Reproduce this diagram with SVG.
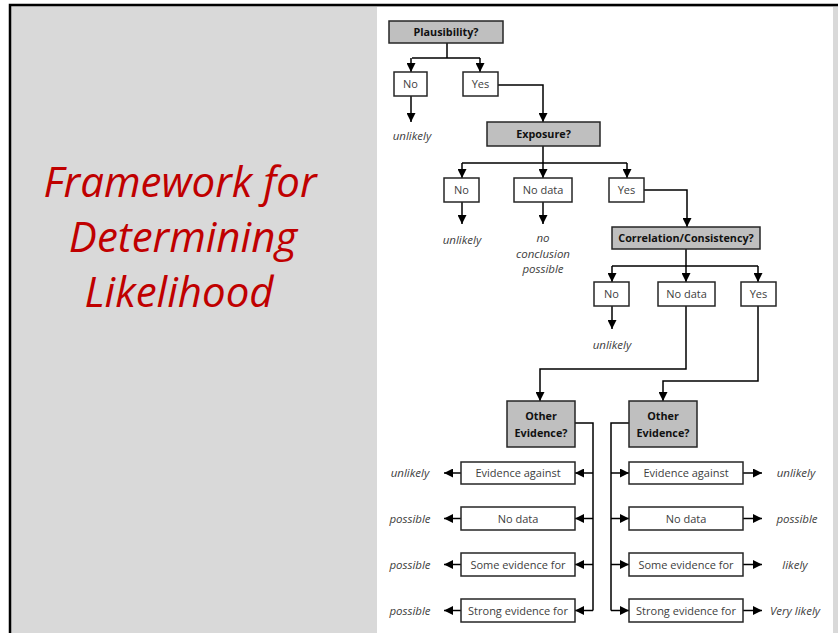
<svg xmlns="http://www.w3.org/2000/svg" width="838" height="633" viewBox="0 0 838 633">
<defs>
<marker id="ah" markerUnits="userSpaceOnUse" markerWidth="9" markerHeight="9" viewBox="0 0 10 10" refX="10" refY="5" orient="auto">
<path d="M0,0 L10,5 L0,10 z" fill="#000"/>
</marker>
<style>
.q rect{fill:#bfbfbf;stroke:#262626;stroke-width:1.5}
.b rect{fill:#fff;stroke:#262626;stroke-width:1.5}
.q text{font-family:"Open Sans","Liberation Sans",sans-serif;font-weight:bold;font-size:10.8px;fill:#111;text-anchor:middle}
.b text{font-family:"Open Sans","Liberation Sans",sans-serif;font-size:11px;fill:#404040;text-anchor:middle}
.o{font-family:"Open Sans","Liberation Sans",sans-serif;font-style:italic;font-size:11.5px;fill:#404040;text-anchor:middle}
#connectors path{fill:none;stroke:#000;stroke-width:1.5}
.t{font-family:"Open Sans","Liberation Sans",sans-serif;font-style:italic;font-size:42px;fill:#c00000;text-anchor:middle}
</style>
</defs>
<rect x="10" y="5" width="840" height="640" fill="#d9d9d9" stroke="#000" stroke-width="2.5"/>
<rect x="377" y="7" width="456" height="626" fill="#fff"/>
<g id="title">
<text class="t" x="180" y="197">Framework for</text>
<text class="t" x="183" y="252">Determining</text>
<text class="t" x="179" y="307">Likelihood</text>
</g>
<g id="connectors">
<path d="M447,43 V58 M412,58 H480"/>
<path d="M411,58 V72" marker-end="url(#ah)"/>
<path d="M480,58 V72" marker-end="url(#ah)"/>
<path d="M411,96 V122" marker-end="url(#ah)"/>
<path d="M498,85 H543 V122" marker-end="url(#ah)"/>
<path d="M543,146 V163 M462,163 H627"/>
<path d="M462,163 V178" marker-end="url(#ah)"/>
<path d="M543,163 V178" marker-end="url(#ah)"/>
<path d="M627,163 V178" marker-end="url(#ah)"/>
<path d="M462,202 V224" marker-end="url(#ah)"/>
<path d="M543,202 V224" marker-end="url(#ah)"/>
<path d="M644,190 H687 V227" marker-end="url(#ah)"/>
<path d="M686,249 V266 M612,266 H758"/>
<path d="M612,266 V282" marker-end="url(#ah)"/>
<path d="M686,266 V282" marker-end="url(#ah)"/>
<path d="M758,266 V282" marker-end="url(#ah)"/>
<path d="M612,306 V329" marker-end="url(#ah)"/>
<path d="M686,306 V369 H540 V401" marker-end="url(#ah)"/>
<path d="M758,306 V381 H663 V401" marker-end="url(#ah)"/>
<path d="M575,423 H593 V610.5"/>
<path d="M593,473 H575" marker-end="url(#ah)"/>
<path d="M593,518.5 H575" marker-end="url(#ah)"/>
<path d="M593,564.5 H575" marker-end="url(#ah)"/>
<path d="M593,610.5 H575" marker-end="url(#ah)"/>
<path d="M461,473 H444" marker-end="url(#ah)"/>
<path d="M461,518.5 H444" marker-end="url(#ah)"/>
<path d="M461,564.5 H444" marker-end="url(#ah)"/>
<path d="M461,610.5 H444" marker-end="url(#ah)"/>
<path d="M629,423 H611 V610.5"/>
<path d="M611,473 H629" marker-end="url(#ah)"/>
<path d="M611,518.5 H629" marker-end="url(#ah)"/>
<path d="M611,564.5 H629" marker-end="url(#ah)"/>
<path d="M611,610.5 H629" marker-end="url(#ah)"/>
<path d="M743,473 H762" marker-end="url(#ah)"/>
<path d="M743,518.5 H762" marker-end="url(#ah)"/>
<path d="M743,564.5 H762" marker-end="url(#ah)"/>
<path d="M743,610.5 H762" marker-end="url(#ah)"/>
</g>
<g id="plausibility" class="q"><rect x="389" y="21" width="114" height="22"/><text x="446" y="36">Plausibility?</text></g>
<g id="p-no" class="b"><rect x="394" y="72" width="33" height="24"/><text x="410.5" y="88">No</text></g>
<g id="p-yes" class="b"><rect x="463" y="72" width="35" height="24"/><text x="480.5" y="88">Yes</text></g>
<text class="o" x="412" y="140">unlikely</text>
<g id="exposure" class="q"><rect x="487" y="122" width="113" height="24"/><text x="543.5" y="138">Exposure?</text></g>
<g id="e-no" class="b"><rect x="444" y="178" width="35" height="24"/><text x="461.5" y="194">No</text></g>
<g id="e-nodata" class="b"><rect x="514" y="178" width="58" height="24"/><text x="543" y="194">No data</text></g>
<g id="e-yes" class="b"><rect x="609" y="178" width="35" height="24"/><text x="626.5" y="194">Yes</text></g>
<text class="o" x="462" y="244">unlikely</text>
<text class="o" x="543" y="242">no</text>
<text class="o" x="543" y="258">conclusion</text>
<text class="o" x="543" y="273">possible</text>
<g id="correlation" class="q"><rect x="612" y="227" width="148" height="22"/><text x="686" y="242">Correlation/Consistency?</text></g>
<g id="c-no" class="b"><rect x="594" y="282" width="35" height="24"/><text x="611.5" y="298">No</text></g>
<g id="c-nodata" class="b"><rect x="658" y="282" width="57" height="24"/><text x="686.5" y="298">No data</text></g>
<g id="c-yes" class="b"><rect x="741" y="282" width="35" height="24"/><text x="758.5" y="298">Yes</text></g>
<text class="o" x="612" y="349">unlikely</text>
<g id="other-left" class="q"><rect x="507" y="401" width="68" height="46"/><text x="541" y="420">Other</text><text x="541" y="437">Evidence?</text></g>
<g id="other-right" class="q"><rect x="629" y="401" width="68" height="46"/><text x="663" y="420">Other</text><text x="663" y="437">Evidence?</text></g>
<g id="l-against" class="b"><rect x="461" y="462" width="114" height="22"/><text x="518" y="477">Evidence against</text></g>
<g id="l-nodata" class="b"><rect x="461" y="507" width="114" height="23"/><text x="518" y="522.5">No data</text></g>
<g id="l-some" class="b"><rect x="461" y="553" width="114" height="23"/><text x="518" y="568.5">Some evidence for</text></g>
<g id="l-strong" class="b"><rect x="461" y="599" width="114" height="23"/><text x="518" y="614.5">Strong evidence for</text></g>
<g id="r-against" class="b"><rect x="629" y="462" width="114" height="22"/><text x="686" y="477">Evidence against</text></g>
<g id="r-nodata" class="b"><rect x="629" y="507" width="114" height="23"/><text x="686" y="522.5">No data</text></g>
<g id="r-some" class="b"><rect x="629" y="553" width="114" height="23"/><text x="686" y="568.5">Some evidence for</text></g>
<g id="r-strong" class="b"><rect x="629" y="599" width="114" height="23"/><text x="686" y="614.5">Strong evidence for</text></g>
<text class="o" x="410" y="477">unlikely</text>
<text class="o" x="410" y="522.5">possible</text>
<text class="o" x="410" y="568.5">possible</text>
<text class="o" x="410" y="614.5">possible</text>
<text class="o" x="796" y="477">unlikely</text>
<text class="o" x="797" y="522.5">possible</text>
<text class="o" x="795" y="568.5">likely</text>
<text class="o" x="795" y="614.5">Very likely</text>
</svg>
